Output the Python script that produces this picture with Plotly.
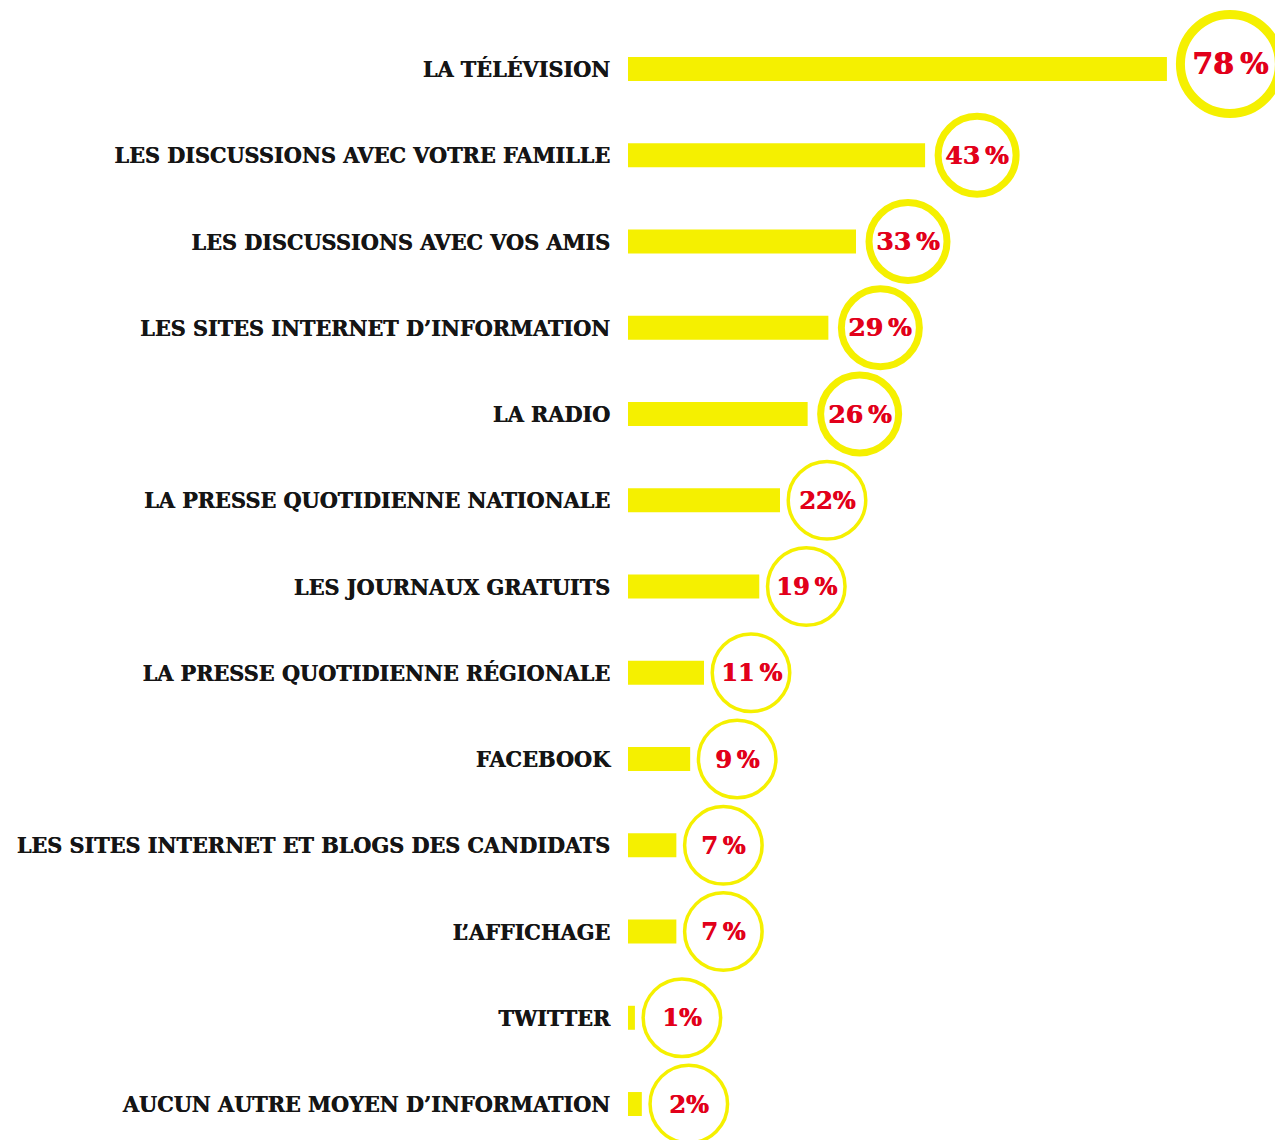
import plotly.graph_objects as go

categories = [
    "LA TÉLÉVISION",
    "LES DISCUSSIONS AVEC VOTRE FAMILLE",
    "LES DISCUSSIONS AVEC VOS AMIS",
    "LES SITES INTERNET D’INFORMATION",
    "LA RADIO",
    "LA PRESSE QUOTIDIENNE NATIONALE",
    "LES JOURNAUX GRATUITS",
    "LA PRESSE QUOTIDIENNE RÉGIONALE",
    "FACEBOOK",
    "LES SITES INTERNET ET BLOGS DES CANDIDATS",
    "L’AFFICHAGE",
    "TWITTER",
    "AUCUN AUTRE MOYEN D’INFORMATION",
]
values = [78, 43, 33, 29, 26, 22, 19, 11, 9, 7, 7, 1, 2]
pct_labels = ["78\u2009%", "43\u2009%", "33\u2009%", "29\u2009%", "26\u2009%", "22%",
              "19\u2009%", "11\u2009%", "9\u2009%", "7\u2009%", "7\u2009%", "1%", "2%"]

YELLOW = "#F5F000"
RED = "#E2001A"
INK = "#151515"

fig = go.Figure(
    go.Bar(
        x=values,
        y=categories,
        orientation="h",
        width=0.278,
        marker=dict(color=YELLOW, line=dict(width=0)),
        hoverinfo="skip",
    )
)

vmax = max(values)
for cat, v, lab in zip(categories, values, pct_labels):
    if v == vmax:
        R, w, off, dy, fs = 54, 9, 63, 5, 30
    elif v >= 25:
        R, w, off, dy, fs = 42.5, 7, 52, 0, 25
    else:
        R, w, off, dy, fs = 40.5, 3.5, 47, 0, 24
    r = R - w / 2
    fig.add_shape(
        type="circle", xref="x", yref="y",
        xsizemode="pixel", ysizemode="pixel",
        xanchor=v, yanchor=cat,
        x0=off - r, x1=off + r, y0=dy - r, y1=dy + r,
        line=dict(color=YELLOW, width=w),
        fillcolor="rgba(0,0,0,0)", layer="above",
    )
    fig.add_annotation(
        x=v, y=cat, xref="x", yref="y", text=lab, showarrow=False,
        xshift=off, yshift=dy, xanchor="center", yanchor="middle",
        font=dict(family="DejaVu Serif", size=fs, color=RED, weight="bold",
                  shadow="0.8px 0px 0px #E2001A"),
    )

# the page body adds an 8px offset; size the figure so the plot area lands where the reference has it
fig.update_layout(
    width=1275, height=1132,
    margin=dict(l=620, r=0, t=0, b=0),
    paper_bgcolor="white", plot_bgcolor="white",
    showlegend=False,
    xaxis=dict(range=[0, 94.8], visible=False, fixedrange=True),
    yaxis=dict(
        range=[12.417, -0.707], autorange=False, showgrid=False, zeroline=False,
        showline=False, ticks="", automargin=False, ticklabelstandoff=17,
        tickfont=dict(family="DejaVu Serif Condensed", size=23.1, color=INK, weight="bold",
                      shadow="0.5px 0px 0px #151515"),
    ),
)

fig.write_html("out.html")
